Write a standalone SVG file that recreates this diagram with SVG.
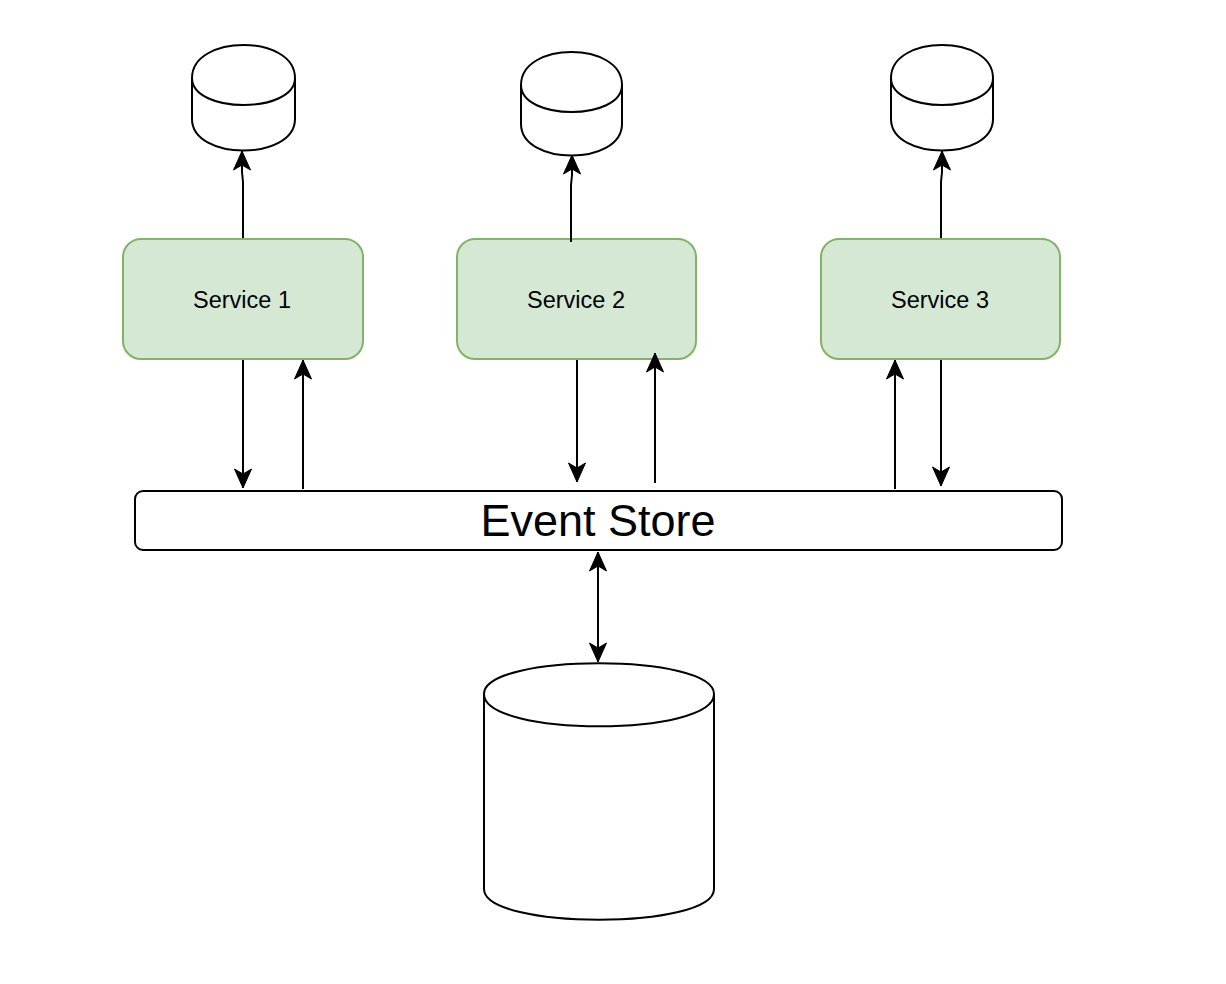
<svg xmlns="http://www.w3.org/2000/svg" width="1226" height="984" viewBox="0 0 1226 984">
<style>
.svc{fill:#d5e8d4;stroke:#82b366;stroke-width:2}
.cyl{fill:#ffffff;stroke:#000;stroke-width:2}
.lbl{font-family:"Liberation Sans",Arial,sans-serif;fill:#000;text-anchor:middle;dominant-baseline:central}
.edge{fill:none;stroke:#000;stroke-width:2}
</style>
<defs>
<marker id="arr" markerUnits="userSpaceOnUse" viewBox="-21 -10 22 20" refX="0" refY="0" markerWidth="22" markerHeight="20" orient="auto-start-reverse">
<path d="M0,0 L-19,-8.5 L-14,0 L-19,8.5 Z" fill="#000" stroke="#000" stroke-width="1"/>
</marker>
</defs>
<rect width="1226" height="984" fill="#fff"/>
<g id="db1"><path class="cyl" d="M192,78 C192,34 295,34 295,78 L295,119 C295,161 192,161 192,119 Z M192,78 C192,114 295,114 295,78"/></g>
<g id="db2"><path class="cyl" d="M521,85 C521,41 622,41 622,85 L622,124 C622,166 521,166 521,124 Z M521,85 C521,121 622,121 622,85"/></g>
<g id="db3"><path class="cyl" d="M891,78 C891,34 993,34 993,78 L993,119 C993,161 891,161 891,119 Z M891,78 C891,114 993,114 993,78"/></g>
<g id="service1"><rect class="svc" x="123" y="239" width="240" height="120" rx="18"/><text class="lbl" x="242" y="300" font-size="23.5">Service 1</text></g>
<g id="service2"><rect class="svc" x="457" y="239" width="239" height="120" rx="18"/><text class="lbl" x="576" y="300" font-size="23.5">Service 2</text></g>
<g id="service3"><rect class="svc" x="821" y="239" width="239" height="120" rx="18"/><text class="lbl" x="940" y="300" font-size="23.5">Service 3</text></g>
<g id="eventstore"><rect class="cyl" x="135" y="491" width="927" height="59" rx="8"/><text class="lbl" x="598" y="520" font-size="45">Event Store</text></g>
<g id="maindb"><path class="cyl" d="M484,694 C484,653 714,653 714,694 L714,889 C714,930 484,930 484,889 Z M484,694 C484,737 714,737 714,694"/></g>
<g id="connectors">
<path class="edge" d="M243,238 L243,182 L242,172 L242,151" marker-end="url(#arr)"/>
<path class="edge" d="M571,242 L571,185 L572,175 L572,155" marker-end="url(#arr)"/>
<path class="edge" d="M941,238 L941,182 L942,172 L942,151" marker-end="url(#arr)"/>
<path class="edge" d="M243,360 L243,488" marker-end="url(#arr)"/>
<path class="edge" d="M303,489 L303,360" marker-end="url(#arr)"/>
<path class="edge" d="M577,360 L577,482" marker-end="url(#arr)"/>
<path class="edge" d="M655,483 L655,353" marker-end="url(#arr)"/>
<path class="edge" d="M895,489 L895,360" marker-end="url(#arr)"/>
<path class="edge" d="M941,360 L941,486" marker-end="url(#arr)"/>
<path class="edge" d="M598,552 L598,662" marker-start="url(#arr)" marker-end="url(#arr)"/>
</g>
</svg>
